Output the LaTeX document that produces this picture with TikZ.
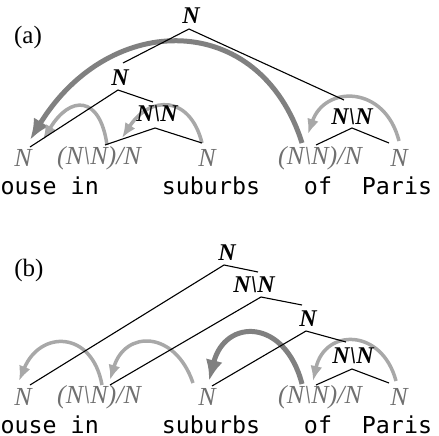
\documentclass[tikz,border=0pt]{standalone}
\usepackage{fontspec}
\setmainfont{Liberation Serif}
\newfontfamily\wordfont{DejaVu Sans Mono}
\usetikzlibrary{arrows.meta}
\pgfdeclarelayer{bg}
\pgfsetlayers{bg,main}
\definecolor{leafgray}{HTML}{707070}
\definecolor{arclight}{HTML}{A8A8A8}
\definecolor{arcdark}{HTML}{808080}
\tikzset{
 leafcat/.style={inner sep=0pt, text=leafgray, font=\fontsize{26}{26}\selectfont\itshape},
 innercat/.style={inner sep=0pt, font=\fontsize{24}{24}\selectfont\bfseries\itshape},
 word/.style={inner sep=0pt, anchor=base, font=\fontsize{23.3}{23.3}\selectfont\wordfont},
 panel/.style={inner sep=0pt, font=\fontsize{25}{25}\selectfont},
 tree/.style={line width=1.1pt, black},
 deplight/.style={line width=3.5pt, arclight, -{Latex[length=15pt,width=12pt]}},
 depdark/.style={line width=5pt, arcdark, -{Latex[length=21pt,width=17pt]}},
}
\begin{document}
\begin{tikzpicture}[x=1pt,y=-1pt]
\useasboundingbox (0,0) rectangle (439,436);
% ---------- (a) ----------
\node[panel] (pa) at (28,37) {(a)};
\node[innercat] (aTop) at (191,16) {N};
\node[innercat] (aN2) at (120,78) {N};
\node[innercat] (aNN1) at (157,114) {N\textbackslash N};
\node[innercat] (aNN2) at (352,117) {N\textbackslash N};
\node[leafcat] (aL1) at (23,158) {N};
\node[leafcat] (aL2) at (99,158) {(N\textbackslash N)/N};
\node[leafcat] (aL3) at (207,158) {N};
\node[leafcat] (aL4) at (320,158) {(N\textbackslash N)/N};
\node[leafcat] (aL5) at (399,158) {N};
\node[word,anchor=base east] (aW1) at (99,194) {house in};
\node[word] (aW2) at (211,194) {suburbs};
\node[word] (aW3) at (318,194) {of};
\node[word] (aW4) at (397,194) {Paris};
% tree coordinates (a)
\coordinate (aTopA) at (189,29);
\coordinate (aTopL) at (123,63);
\coordinate (aTopR) at (344,100);
\coordinate (aN2A) at (118,90);
\coordinate (aN2L) at (30,147);
\coordinate (aN2R) at (153,102);
\coordinate (aNN1A) at (155,128);
\coordinate (aNN1L) at (105,145);
\coordinate (aNN1R) at (202,143);
\coordinate (aNN2A) at (352,128);
\coordinate (aNN2L) at (316,145);
\coordinate (aNN2R) at (389,143);
\draw[tree] (aTopL) -- (aTopA) -- (aTopR);
\draw[tree] (aN2L) -- (aN2A) -- (aN2R);
\draw[tree] (aNN1L) -- (aNN1A) -- (aNN1R);
\draw[tree] (aNN2L) -- (aNN2A) -- (aNN2R);
% dependency arcs (a)
\coordinate (aD1s) at (302,143); \coordinate (aD1e) at (30,140);
\coordinate (aD2s) at (107,145); \coordinate (aD2e) at (43,140);
\coordinate (aD3s) at (202,143); \coordinate (aD3e) at (122,138);
\coordinate (aD4s) at (399,141); \coordinate (aD4e) at (308,134);
\begin{pgfonlayer}{bg}
\draw[depdark] (aD1s) .. controls (260,10) and (110,10) .. (aD1e);
\draw[deplight] (aD2s) .. controls (100,95) and (70,95) .. (aD2e);
\draw[deplight] (aD3s) .. controls (190,95) and (150,95) .. (aD3e);
\draw[deplight] (aD4s) .. controls (385,85) and (325,85) .. (aD4e);
\end{pgfonlayer}
% ---------- (b) ----------
\node[panel] (pb) at (29,270) {(b)};
\node[innercat] (bTop) at (227,253) {N};
\node[innercat] (bNN1) at (254,285) {N\textbackslash N};
\node[innercat] (bN) at (308,319) {N};
\node[innercat] (bNN2) at (353,356) {N\textbackslash N};
\node[leafcat] (bL1) at (23,397) {N};
\node[leafcat] (bL2) at (99,397) {(N\textbackslash N)/N};
\node[leafcat] (bL3) at (207,397) {N};
\node[leafcat] (bL4) at (320,397) {(N\textbackslash N)/N};
\node[leafcat] (bL5) at (399,397) {N};
\node[word,anchor=base east] (bW1) at (99,433) {house in};
\node[word] (bW2) at (211,433) {suburbs};
\node[word] (bW3) at (318,433) {of};
\node[word] (bW4) at (397,433) {Paris};
% tree coordinates (b)
\coordinate (bTopA) at (224,265);
\coordinate (bTopL) at (30,385);
\coordinate (bTopR) at (258,272);
\coordinate (bNN1A) at (261,297);
\coordinate (bNN1L) at (110,385);
\coordinate (bNN1R) at (302,305);
\coordinate (bNA) at (306,331);
\coordinate (bNL) at (212,386);
\coordinate (bNR) at (346,342);
\coordinate (bNN2A) at (352,369);
\coordinate (bNN2L) at (316,385);
\coordinate (bNN2R) at (389,383);
\draw[tree] (bTopL) -- (bTopA) -- (bTopR);
\draw[tree] (bNN1L) -- (bNN1A) -- (bNN1R);
\draw[tree] (bNL) -- (bNA) -- (bNR);
\draw[tree] (bNN2L) -- (bNN2A) -- (bNN2R);
% dependency arcs (b)
\coordinate (bD1s) at (102,385); \coordinate (bD1e) at (19,381);
\coordinate (bD2s) at (193,383); \coordinate (bD2e) at (110,380);
\coordinate (bD3s) at (302,384); \coordinate (bD3e) at (209,381);
\coordinate (bD4s) at (396,381); \coordinate (bD4e) at (313,381);
\begin{pgfonlayer}{bg}
\draw[deplight] (bD1s) .. controls (92,330) and (40,330) .. (bD1e);
\draw[deplight] (bD2s) .. controls (175,330) and (125,330) .. (bD2e);
\draw[depdark] (bD3s) .. controls (285,318) and (225,318) .. (bD3e);
\draw[deplight] (bD4s) .. controls (382,328) and (325,328) .. (bD4e);
\end{pgfonlayer}
\end{tikzpicture}
\end{document}
